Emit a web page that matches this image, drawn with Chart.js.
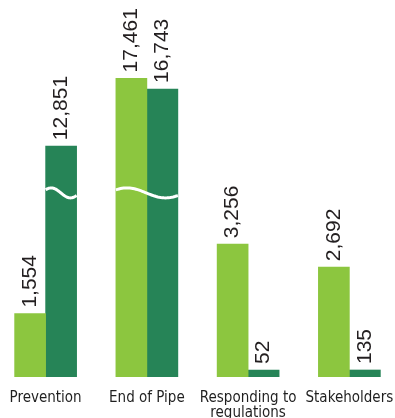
<!DOCTYPE html>
<html>
<head>
<meta charset="utf-8">
<script src="https://cdn.jsdelivr.net/npm/chart.js@4.4.1/dist/chart.umd.min.js"></script>
<style>
  html, body { margin: 0; padding: 0; background: #fff; overflow: hidden; }
  #wrap { position: relative; width: 395px; height: 418px; overflow: hidden; }
  #chart { position: absolute; left: -5px; top: 0; }
</style>
</head>
<body>
<div id="wrap"><canvas id="chart" width="405" height="418"></canvas></div>
<script>
const categories = ['Prevention', 'End of Pipe', ['Responding to', 'regulations'], 'Stakeholders'];
const lightValues = [1554, 17461, 3256, 2692];
const darkValues = [12851, 16743, 52, 135];

// broken axis: values between breakLow and breakHigh are squeezed together
const breakLow = 3400;
const breakHigh = 12000;
const breakMark = 8300;
const gapScale = 0.227;
const topScale = 0.36;

function squash(v) {
  if (v <= breakLow) return v;
  if (v <= breakHigh) return breakLow + (v - breakLow) * gapScale;
  return breakLow + (breakHigh - breakLow) * gapScale + (v - breakHigh) * topScale;
}
function unsquash(s) {
  const a = breakLow, b = breakLow + (breakHigh - breakLow) * gapScale;
  if (s <= a) return s;
  if (s <= b) return breakLow + (s - a) / gapScale;
  return breakHigh + (s - b) / topScale;
}

class BrokenScale extends Chart.LinearScale {
  configure() {
    super.configure();
    this._startValue = squash(this.min);
    this._valueRange = squash(this.max) - squash(this.min);
  }
  getPixelForValue(value) {
    return value === null ? NaN : this.getPixelForDecimal((squash(value) - this._startValue) / this._valueRange);
  }
  getValueForPixel(pixel) {
    return unsquash(this._startValue + this.getDecimalForPixel(pixel) * this._valueRange);
  }
}
BrokenScale.id = 'broken';
BrokenScale.defaults = Chart.LinearScale.defaults;
Chart.register(BrokenScale);

// white wavy line across bars that pass the break
const breakWave = {
  id: 'breakWave',
  afterDatasetsDraw(chart) {
    const ctx = chart.ctx;
    const y = chart.scales.y.getPixelForValue(breakMark);
    const amp = 5;
    categories.forEach((c, i) => {
      let left = null, right = null;
      chart.data.datasets.forEach((ds, d) => {
        if (ds.data[i] > breakHigh) {
          const bar = chart.getDatasetMeta(d).data[i];
          const l = bar.x - bar.width / 2, r = bar.x + bar.width / 2;
          left = left === null ? l : Math.min(left, l);
          right = right === null ? r : Math.max(right, r);
        }
      });
      if (left === null) return;
      ctx.save();
      ctx.strokeStyle = '#fff';
      ctx.lineWidth = 3;
      ctx.beginPath();
      const w = right - left;
      for (let k = 0; k <= 40; k++) {
        const t = k / 40;
        const yy = y - amp * Math.cos(Math.PI * (t - 0.18) / 0.62);
        if (k === 0) ctx.moveTo(left, yy); else ctx.lineTo(left + t * w, yy);
      }
      ctx.stroke();
      ctx.restore();
    });
  }
};

// rotated value labels above bars
const valueLabels = {
  id: 'valueLabels',
  afterDatasetsDraw(chart) {
    const ctx = chart.ctx;
    ctx.save();
    ctx.fillStyle = '#231f20';
    ctx.font = '21px "Liberation Sans", Arial, sans-serif';
    ctx.textAlign = 'left';
    ctx.textBaseline = 'middle';
    chart.data.datasets.forEach((ds, d) => {
      chart.getDatasetMeta(d).data.forEach((bar, i) => {
        ctx.save();
        ctx.translate(bar.x, bar.y - 6);
        ctx.rotate(-Math.PI / 2);
        ctx.fillText(ds.data[i].toLocaleString('en-US'), 0, 0);
        ctx.restore();
      });
    });
    ctx.restore();
  }
};

new Chart(document.getElementById('chart'), {
  type: 'bar',
  data: {
    labels: categories,
    datasets: [{
      data: lightValues,
      backgroundColor: '#8cc63f',
      barThickness: 31,
      minBarLength: 7
    }, {
      data: darkValues,
      backgroundColor: '#268457',
      barThickness: 31,
      minBarLength: 7
    }]
  },
  options: {
    responsive: false,
    animation: false,
    layout: { padding: 0 },
    plugins: {
      legend: { display: false },
      tooltip: { enabled: false }
    },
    scales: {
      x: {
        grid: { display: false },
        border: { display: false },
        ticks: {
          color: '#1f1f1f',
          padding: 6,
          maxRotation: 0,
          autoSkip: false,
          font: { family: '"DejaVu Sans Condensed", "DejaVu Sans", sans-serif', size: 15, lineHeight: 1.0 }
        },
        afterFit(scale) { scale.height = 41; }
      },
      y: {
        type: 'broken',
        display: false,
        min: 0,
        max: 22800
      }
    }
  },
  plugins: [breakWave, valueLabels]
});
</script>
</body>
</html>
